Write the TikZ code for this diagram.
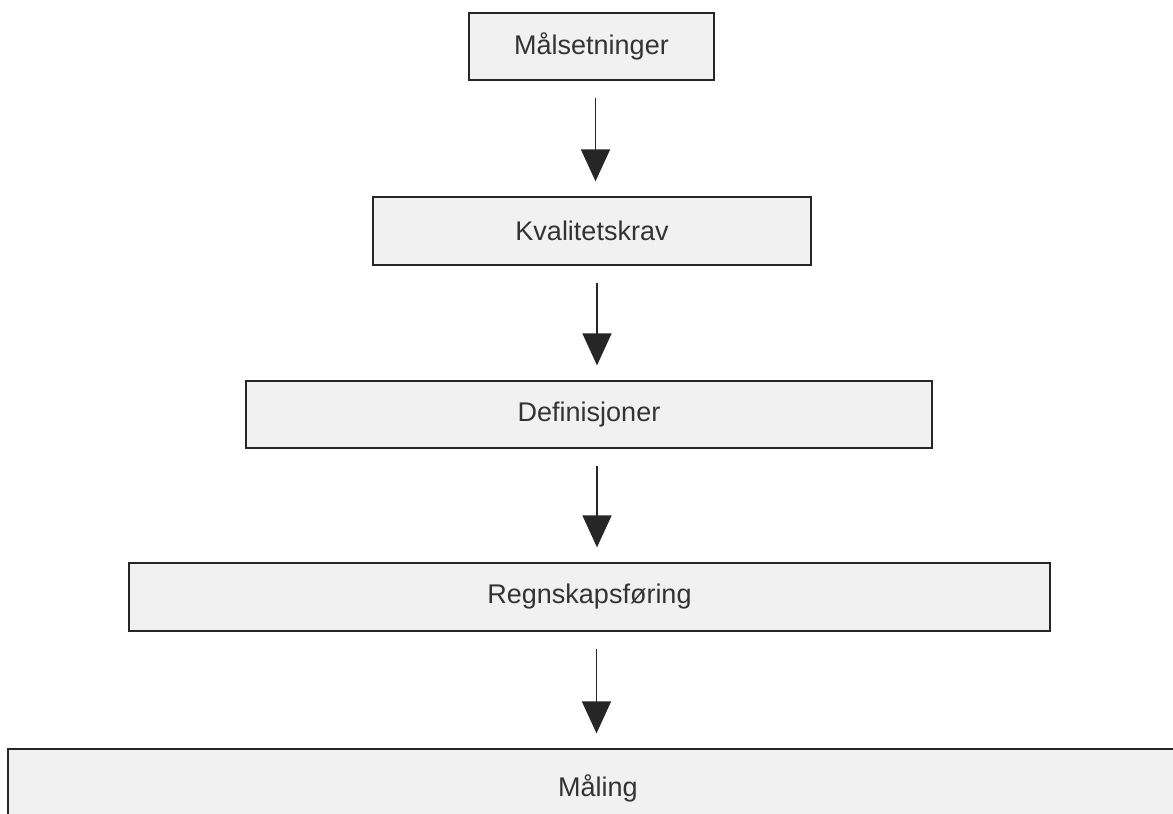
\documentclass[tikz,border=0pt]{standalone}
\usepackage{fontspec}
\setmainfont{Liberation Sans}
\usetikzlibrary{arrows.meta,calc}
\definecolor{boxfill}{HTML}{F1F1F1}
\definecolor{ink}{HTML}{262626}
\definecolor{txt}{HTML}{333333}
\tikzset{
  stagebox/.style={draw=ink, line width=1.3pt, fill=boxfill, rectangle,
    inner sep=0pt, text=txt, font=\fontsize{27}{31}\selectfont},
  flowarrow/.style={draw=ink, line width=1.6pt,
    -{Triangle[width=29pt,length=32pt]}, fill=txt,
    shorten <=17pt, shorten >=15pt}
}
\begin{document}
\begin{tikzpicture}[x=1pt,y=1pt]
\useasboundingbox (0,0) rectangle (1173,-814);
\fill[white] (0,0) rectangle (1173,-814);
\begin{scope}
\clip (0,0) rectangle (1173,-814);
\node[stagebox, minimum width=245pt, minimum height=67pt] (b1) at (591.5,-46.5) {Målsetninger};
\node[stagebox, minimum width=438pt, minimum height=68pt] (b2) at (592,-231) {Kvalitetskrav};
\node[stagebox, minimum width=686pt, minimum height=67pt] (b3) at (589,-414.5) {Definisjoner};
\node[stagebox, minimum width=921pt, minimum height=68pt] (b4) at (589.5,-597) {Regnskapsføring};
\node[stagebox, minimum width=1180pt, minimum height=78pt] (b5) at (598,-788) {Måling};
\end{scope}
\draw[flowarrow] ([xshift=4pt]b1.south) -- ([xshift=4pt]b1.south |- b2.north);
\draw[flowarrow] ([xshift=5pt]b2.south) -- ([xshift=5pt]b2.south |- b3.north);
\draw[flowarrow] ([xshift=8pt]b3.south) -- ([xshift=8pt]b3.south |- b4.north);
\draw[flowarrow] ([xshift=7pt]b4.south) -- ([xshift=7pt]b4.south |- b5.north);
\end{tikzpicture}
\end{document}
